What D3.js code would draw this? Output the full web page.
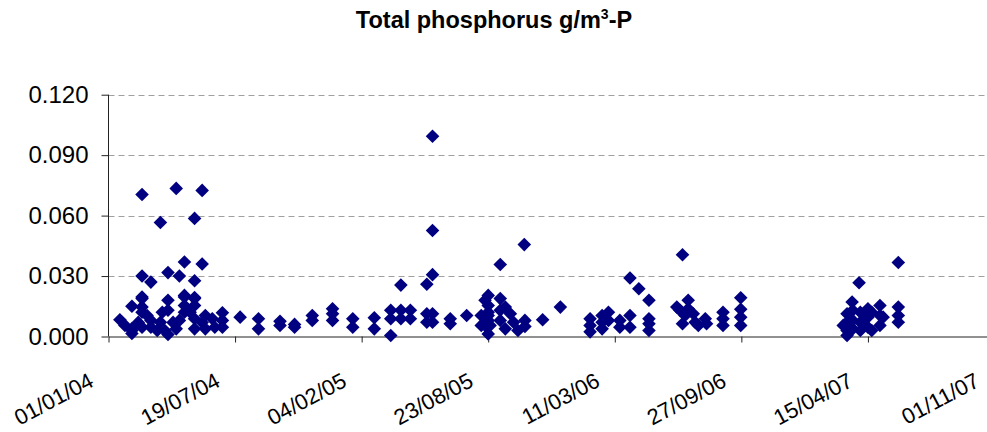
<!DOCTYPE html>
<html>
<head>
<meta charset="utf-8">
<script src="https://cdn.jsdelivr.net/npm/d3@7"></script>
<style>
  html, body { margin: 0; padding: 0; background: #fff; }
  svg { display: block; font-family: Arial, "Liberation Sans", sans-serif; }
</style>
</head>
<body>
<svg id="chart" width="987" height="432"></svg>
<script>
// ---- Data ----
const chartTitle = "Total phosphorus g/m";
const yTickValues = [0, 0.03, 0.06, 0.09, 0.12];
const xTickLabels = ["01/01/04", "19/07/04", "04/02/05", "23/08/05", "11/03/06", "27/09/06", "15/04/07", "01/11/07"];

const sampleDates = [
  "2004-01-19","2004-01-27",
  "2004-02-07","2004-02-07","2004-02-07","2004-02-07",
  "2004-02-17",
  "2004-02-23","2004-02-23","2004-02-23","2004-02-23","2004-02-23","2004-02-23","2004-02-23",
  "2004-03-02",
  "2004-03-08","2004-03-08","2004-03-08",
  "2004-03-18",
  "2004-03-23","2004-03-23",
  "2004-03-26","2004-03-30",
  "2004-04-04","2004-04-04","2004-04-04","2004-04-04",
  "2004-04-12",
  "2004-04-17","2004-04-17",
  "2004-04-22","2004-04-22",
  "2004-04-30","2004-04-30","2004-04-30","2004-04-30","2004-04-30",
  "2004-05-09",
  "2004-05-16","2004-05-16","2004-05-16","2004-05-16","2004-05-16","2004-05-16","2004-05-16",
  "2004-05-28","2004-05-28","2004-05-28",
  "2004-06-02","2004-06-02",
  "2004-06-13","2004-06-17",
  "2004-06-29","2004-06-29","2004-06-29",
  "2004-07-27",
  "2004-08-25","2004-08-25",
  "2004-09-28","2004-09-28",
  "2004-10-21","2004-10-21",
  "2004-11-18","2004-11-18",
  "2004-12-20","2004-12-20","2004-12-20",
  "2005-01-21","2005-01-21",
  "2005-02-24","2005-02-24",
  "2005-03-22","2005-03-22","2005-03-22",
  "2005-04-07","2005-04-07","2005-04-07",
  "2005-04-22","2005-04-22",
  "2005-05-18","2005-05-18","2005-05-18",
  "2005-05-27","2005-05-27","2005-05-27","2005-05-27","2005-05-27",
  "2005-06-24","2005-06-24",
  "2005-07-20",
  "2005-08-12","2005-08-12",
  "2005-08-18","2005-08-18",
  "2005-08-23","2005-08-23","2005-08-23","2005-08-23","2005-08-23","2005-08-23",
  "2005-08-26",
  "2005-09-11","2005-09-11","2005-09-11","2005-09-11",
  "2005-09-19","2005-09-19",
  "2005-09-27","2005-10-02","2005-10-09",
  "2005-10-19",
  "2005-10-20","2005-10-20",
  "2005-11-17",
  "2005-12-15",
  "2006-01-31","2006-01-31","2006-01-31",
  "2006-02-19","2006-02-19","2006-02-19",
  "2006-03-01","2006-03-01",
  "2006-03-19","2006-03-19",
  "2006-04-04","2006-04-04","2006-04-04",
  "2006-04-18",
  "2006-05-04","2006-05-04","2006-05-04","2006-05-04",
  "2006-06-17","2006-06-22",
  "2006-06-26","2006-06-26",
  "2006-06-30",
  "2006-07-05","2006-07-05",
  "2006-07-13","2006-07-16","2006-07-21",
  "2006-08-01","2006-08-03",
  "2006-08-29","2006-08-29","2006-08-29",
  "2006-09-26","2006-09-26","2006-09-26","2006-09-26",
  "2007-03-07",
  "2007-03-13","2007-03-13","2007-03-13","2007-03-13",
  "2007-03-21",
  "2007-03-22","2007-03-22","2007-03-22",
  "2007-04-01",
  "2007-04-03","2007-04-03","2007-04-03",
  "2007-04-15","2007-04-15","2007-04-15",
  "2007-04-21","2007-04-21",
  "2007-05-04","2007-05-04","2007-05-04",
  "2007-05-09",
  "2007-06-02","2007-06-02","2007-06-02","2007-06-02"
];

const phosphorus = [
  0.0083, 0.0055,
  0.015, 0.004, 0.0015, 0.003,
  0.007,
  0.0705, 0.030, 0.0188, 0.0196, 0.0146, 0.012, 0.0046,
  0.0104,
  0.027, 0.008, 0.0046,
  0.003,
  0.0566, 0.0071,
  0.012, 0.003,
  0.0317, 0.018, 0.001, 0.013,
  0.007,
  0.0735, 0.0038,
  0.030, 0.008,
  0.0204, 0.0196, 0.0154, 0.012, 0.037,
  0.012,
  0.0586, 0.0277, 0.0193, 0.0188, 0.0154, 0.0088, 0.0038,
  0.0725, 0.036, 0.007,
  0.0104, 0.0038,
  0.0088, 0.0046,
  0.0118, 0.008, 0.0046,
  0.0096,
  0.0088, 0.0038,
  0.0076, 0.0055,
  0.0046, 0.006,
  0.0104, 0.008,
  0.0138, 0.0113, 0.008,
  0.0088, 0.0046,
  0.0093, 0.0038,
  0.0005, 0.013, 0.0088,
  0.0255, 0.013, 0.0088,
  0.013, 0.0088,
  0.0259, 0.0113, 0.0071,
  0.0994, 0.0526, 0.0307, 0.0113, 0.0071,
  0.0088, 0.0063,
  0.0104,
  0.0104, 0.0055,
  0.018, 0.0055,
  0.0204, 0.0154, 0.0104, 0.0013, 0.012, 0.008,
  0.0055,
  0.0357, 0.0188, 0.013, 0.008,
  0.0146, 0.0038,
  0.0113, 0.0071, 0.003,
  0.0456,
  0.008, 0.005,
  0.0083,
  0.0146,
  0.0088, 0.0055, 0.0023,
  0.0104, 0.0071, 0.0038,
  0.012, 0.008,
  0.008, 0.0046,
  0.029, 0.0104, 0.0046,
  0.0237,
  0.018, 0.0088, 0.0063, 0.003,
  0.0146, 0.013,
  0.0406, 0.0063,
  0.0104,
  0.018, 0.0138,
  0.0113, 0.0071, 0.0055,
  0.0088, 0.0063,
  0.012, 0.0088, 0.0055,
  0.0192, 0.0135, 0.0096, 0.0055,
  0.0055,
  0.0113, 0.0071, 0.003, 0.0005,
  0.0171,
  0.013, 0.008, 0.0038,
  0.0267,
  0.012, 0.0071, 0.003,
  0.0138, 0.0096, 0.0046,
  0.012, 0.003,
  0.0154, 0.0104, 0.0055,
  0.0096,
  0.0367, 0.0146, 0.0104, 0.0071
];

// ---- Chart ----
const svg = d3.select("#chart");
const parseISO = d3.utcParse("%Y-%m-%d");
const parseTick = d3.utcParse("%d/%m/%y");
const tickDates = xTickLabels.map(parseTick);

const plotLeft = 108.5, plotRight = 994.5, plotTop = 94.7, plotBottom = 336.5;

const x = d3.scaleUtc()
  .domain([tickDates[0], tickDates[tickDates.length - 1]])
  .range([plotLeft, plotRight]);
const y = d3.scaleLinear().domain([0, 0.12]).range([plotBottom, plotTop]);

const points = sampleDates.map((d, i) => ({ date: parseISO(d), value: phosphorus[i] }));

// Title
const title = svg.append("text")
  .attr("x", 494).attr("y", 28)
  .attr("text-anchor", "middle")
  .attr("font-size", 23.5).attr("font-weight", "bold").attr("fill", "#000");
title.append("tspan").text(chartTitle);
title.append("tspan").attr("font-size", 14).attr("dy", -9).text("3");
title.append("tspan").attr("dy", 9).text("-P");

// Gridlines
svg.append("g")
  .selectAll("line")
  .data(yTickValues.filter(v => v > 0))
  .join("line")
  .attr("x1", plotLeft).attr("x2", plotRight)
  .attr("y1", d => Math.round(y(d)) + 0.5).attr("y2", d => Math.round(y(d)) + 0.5)
  .attr("stroke", "#a0a0a0").attr("stroke-width", 1)
  .attr("stroke-dasharray", "6,4");

// Y axis
const yAxis = d3.axisLeft(y)
  .tickValues(yTickValues)
  .tickFormat(d3.format(".3f"))
  .tickSize(7).tickPadding(13);
const gy = svg.append("g").attr("transform", `translate(${plotLeft},0)`).call(yAxis);
gy.select(".domain").attr("stroke", "#222").attr("d", `M0,${plotTop}V${plotBottom}`);
gy.selectAll(".tick line").attr("stroke", "#222");
gy.selectAll(".tick text")
  .attr("font-size", 24).attr("font-family", "Arial, 'Liberation Sans', sans-serif")
  .attr("fill", "#000");

// X axis
const xAxis = d3.axisBottom(x)
  .tickValues(tickDates)
  .tickFormat((d, i) => xTickLabels[i])
  .tickSizeInner(6).tickSizeOuter(0);
const gx = svg.append("g").attr("transform", `translate(0,${plotBottom})`).call(xAxis);
gx.select(".domain").attr("stroke", "#222");
gx.selectAll(".tick line").attr("stroke", "#222");
gx.selectAll(".tick text")
  .attr("font-size", 22).attr("font-family", "Arial, 'Liberation Sans', sans-serif")
  .attr("fill", "#000")
  .attr("text-anchor", "end")
  .attr("dy", null)
  .attr("y", null)
  .attr("transform", "translate(-14,49) rotate(-28)");

// Points
const diamond = "M0,-6.8L6.8,0L0,6.8L-6.8,0Z";
svg.append("g")
  .selectAll("path")
  .data(points)
  .join("path")
  .attr("d", diamond)
  .attr("transform", d => `translate(${x(d.date)},${y(d.value)})`)
  .attr("fill", "#000080");
</script>
</body>
</html>
